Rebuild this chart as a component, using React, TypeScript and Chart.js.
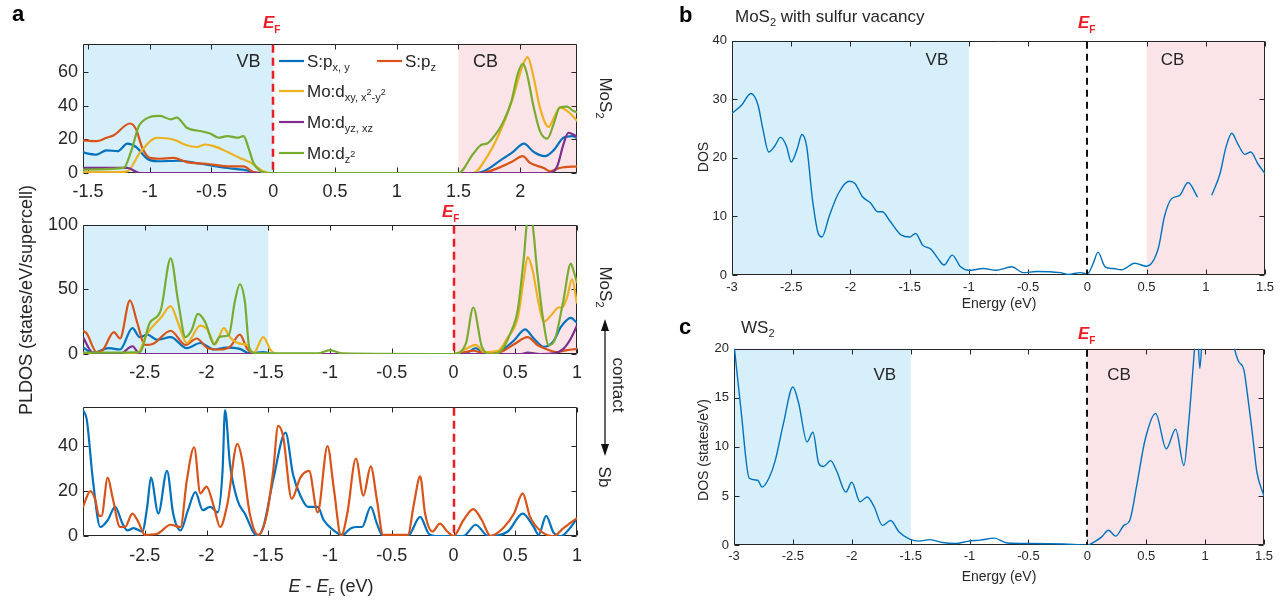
import React, { useEffect, useRef } from "react";
import { Chart, registerables } from "chart.js";

Chart.register(...registerables);

const FONT = '"Liberation Sans", Arial, Helvetica, sans-serif';
const INK = "#262626";
const C_SPXY = "#0072BD";
const C_SPZ = "#D95319";
const C_DXY = "#EDB120";
const C_DYZ = "#7E2F8E";
const C_DZ2 = "#77AC30";
const VB_FILL = "rgb(214,239,250)";
const CB_FILL = "rgb(251,228,232)";
const EF_RED = "#EC1C24";

// ---------- Panel a (top): MoS2 monolayer PLDOS ----------
const A1_E_SPXY = [-1.56, -1.43, -1.35, -1.26, -1.18, -1.11, -1.02, -0.94, -0.76, -0.59, -0.37, -0.21, -0.13, -0.05, 1.5, 1.64, 1.73, 1.84, 1.94, 2.03, 2.11, 2.2, 2.27, 2.35, 2.42, 2.47];
const A1_SPXY = [12.5, 11, 13.5, 13, 17.5, 15.5, 8.5, 7, 7.3, 5.5, 3, 1.5, 0, 0, 0, 0, 2, 7.5, 12.5, 17.5, 12.5, 10, 13.5, 21, 22, 20.5];
const A1_E_SPZ = [-1.56, -1.43, -1.35, -1.29, -1.16, -1.11, -1.06, -1.0, -0.92, -0.81, -0.7, -0.54, -0.37, -0.24, -0.16, -0.08, 1.5, 1.68, 1.84, 1.94, 2.02, 2.08, 2.19, 2.24, 2.32, 2.47];
const A1_SPZ = [19.5, 19, 21, 22.5, 29.5, 26, 15, 9, 8.5, 9, 6.5, 5.5, 4, 4, 0.5, 0, 0, 0, 3.5, 7, 10, 6, 3, 1, 3, 4];
const A1_E_DXY = [-1.56, -1.25, -1.18, -1.08, -0.94, -0.81, -0.7, -0.62, -0.55, -0.48, -0.37, -0.27, -0.19, -0.13, -0.08, -0.02, 1.5, 1.62, 1.73, 1.84, 1.94, 2.02, 2.06, 2.11, 2.16, 2.23, 2.28, 2.32, 2.38, 2.47];
const A1_DXY = [0.5, 0.5, 1, 12, 21, 20, 16.5, 15.5, 17, 16, 12.5, 9, 6.5, 3.5, 1, 0, 0, 0, 9.5, 25, 44.5, 64, 69, 56.5, 39, 27.5, 34, 39, 37, 30.5];
const A1_E_DYZ = [-1.56, -1.18, -1.08, 2.24, 2.3, 2.35, 2.39, 2.43, 2.47];
const A1_DYZ = [3, 3, 0, 0, 4, 17, 24, 23, 21];
const A1_E_DZ2 = [-1.56, -1.21, -1.15, -1.08, -0.915, -0.83, -0.78, -0.7, -0.59, -0.51, -0.44, -0.37, -0.29, -0.24, -0.2, -0.16, -0.1, -0.04, 1.5, 1.62, 1.69, 1.73, 1.78, 1.86, 1.93, 1.98, 2.02, 2.05, 2.11, 2.16, 2.22, 2.27, 2.32, 2.38, 2.43, 2.47];
const A1_DZ2 = [2, 3, 13, 29, 34, 32, 33, 27, 25, 23.5, 21, 22, 21, 22, 15, 6, 1, 0, 0, 11.5, 17, 17.5, 21, 30, 43, 59, 65, 60.5, 39, 25, 20.5, 29, 39, 39.5, 37, 36];

// ---------- Panel a (middle): MoS2 in contact ----------
const A2_E_SPXY = [-3.0, -2.92, -2.79, -2.7, -2.6, -2.54, -2.48, -2.4, -2.29, -2.16, -2.05, -1.94, -1.84, -1.73, -1.65, -1.54, -1.46, -1.0, 0.0, 0.11, 0.18, 0.25, 0.38, 0.49, 0.58, 0.65, 0.73, 0.81, 0.87, 0.95, 1.0];
const A2_SPXY = [5, 1, 4.5, 3.5, 20, 13, 15, 11, 13, 4.5, 8.5, 3.5, 5, 4, 0.5, 1.5, 0, 0, 0, 1, 4.5, 0.5, 2.5, 10.5, 19, 12, 5.5, 10, 21, 28, 24];
const A2_E_SPZ = [-3.0, -2.97, -2.89, -2.84, -2.75, -2.7, -2.62, -2.56, -2.5, -2.43, -2.29, -2.17, -2.08, -1.99, -1.89, -1.81, -1.73, -1.67, -1.62, -1.5, 0, 0.16, 0.25, 0.38, 0.49, 0.6, 0.68, 0.76, 0.84, 0.92, 1.0];
const A2_SPZ = [18, 16, 1.5, 3, 17, 12, 41.5, 24, 7, 8, 18, 7, 12, 4.5, 3.5, 5.5, 15, 4, 0.5, 0, 0, 2.5, 0.5, 1.5, 7.5, 13, 7, 3.5, 1.5, 3, 4];
const A2_E_DXY = [-3.0, -2.56, -2.48, -2.37, -2.29, -2.23, -2.16, -2.05, -1.99, -1.93, -1.86, -1.81, -1.73, -1.67, -1.62, -1.54, -1.48, -1.43, 0, 0.11, 0.18, 0.25, 0.36, 0.44, 0.52, 0.57, 0.6, 0.64, 0.69, 0.73, 0.8, 0.85, 0.88, 0.92, 0.96, 1.0];
const A2_DXY = [0, 0.5, 16, 28, 37, 24, 8.5, 22, 18.5, 7.5, 20, 13, 8, 7, 0.5, 13, 3, 0, 0, 4.5, 7, 1.5, 2.5, 13, 28, 59, 75, 65, 39, 25, 31, 36, 36, 44, 58, 39];
const A2_E_DYZ = [-3.0, -2.92, -2.7, -2.6, -2.54, 0.55, 0.6, 0.7, 0.81, 0.89, 0.95, 1.0];
const A2_DYZ = [13, 1, 0, 6, 0, 0, 1, 0, 0.5, 4, 12, 22];
const A2_E_DZ2 = [-3.0, -2.54, -2.46, -2.37, -2.29, -2.23, -2.17, -2.12, -2.07, -2.01, -1.94, -1.89, -1.82, -1.77, -1.73, -1.69, -1.65, -1.59, -1.1, -1.0, -0.9, 0, 0.1, 0.16, 0.23, 0.3, 0.38, 0.46, 0.52, 0.57, 0.6, 0.63, 0.68, 0.73, 0.77, 0.82, 0.89, 0.95, 0.97, 1.0];
const A2_DZ2 = [1, 1.5, 24, 34, 74, 41, 13, 18.5, 31, 24.5, 7.5, 13.5, 14.5, 41, 54, 41, 3, 0.5, 0.5, 3, 0.5, 0, 8, 36, 5.5, 0, 2, 16, 34, 75, 103, 103, 62, 24, 7, 11, 41.5, 70, 65, 55];

// ---------- Panel a (bottom): Sb side of the contact ----------
const A3_E_SPXY = [-3.0, -2.97, -2.92, -2.86, -2.8, -2.74, -2.68, -2.64, -2.59, -2.52, -2.48, -2.45, -2.39, -2.32, -2.27, -2.21, -2.15, -2.09, -2.03, -1.97, -1.91, -1.87, -1.85, -1.81, -1.75, -1.69, -1.59, -1.54, -1.46, -1.36, -1.3, -1.24, -1.18, -1.1, -1.05, -0.97, -0.9, -0.83, -0.78, -0.74, -0.67, -0.62, -0.57, -0.37, -0.27, -0.2, -0.13, 0.08, 0.18, 0.28, 0.44, 0.56, 0.65, 0.69, 0.75, 0.81, 0.87, 0.95, 1.0];
const A3_SPXY = [56, 52, 25, 4, 7, 13, 5.5, 2.5, 3.5, 2, 13, 26, 10, 29, 10, 2.5, 11.5, 19.5, 11.5, 13, 10.5, 29, 56, 32, 16, 10, 0, 4, 25, 46, 27.5, 18, 13, 13, 7, 2.5, 0.5, 3.5, 4, 4, 13, 5.5, 0, 0, 8.5, 1, 0, 0, 5, 0, 2, 10, 4, 0.5, 9, 1.5, 0, 4, 8];
const A3_E_SPZ = [-3.0, -2.94, -2.9, -2.87, -2.85, -2.8, -2.76, -2.7, -2.66, -2.6, -2.55, -2.5, -2.4, -2.29, -2.21, -2.16, -2.1, -2.05, -2.0, -1.94, -1.89, -1.83, -1.75, -1.71, -1.65, -1.58, -1.51, -1.46, -1.42, -1.38, -1.31, -1.24, -1.17, -1.1, -1.02, -0.97, -0.91, -0.86, -0.79, -0.73, -0.67, -0.62, -0.57, -0.37, -0.32, -0.27, -0.23, -0.17, -0.11, -0.05, 0, 0.08, 0.16, 0.23, 0.3, 0.41, 0.49, 0.56, 0.62, 0.71, 0.81, 0.89, 1.0];
const A3_SPZ = [13, 20, 16, 9, 9, 26, 17, 4, 4, 10, 6, 0.5, 1, 5, 4, 24.5, 39.5, 19, 22, 13, 4, 14.5, 41, 33.5, 10, 0.5, 10, 29, 49, 44.5, 16.5, 26, 29, 10.5, 40, 21.5, 0, 10, 34.5, 18, 31, 16, 0.5, 0.5, 14.5, 26.5, 10, 2, 5.5, 2, 0, 7, 12, 7, 0, 4, 10, 19, 8.5, 2, 0, 3.5, 8];

// ---------- Panel b: MoS2 with sulfur vacancy ----------
const B_E = [-3.0, -2.92, -2.84, -2.78, -2.74, -2.69, -2.64, -2.59, -2.54, -2.5, -2.45, -2.41, -2.37, -2.32, -2.27, -2.24, -2.18, -2.1, -2.01, -1.96, -1.9, -1.83, -1.77, -1.73, -1.67, -1.57, -1.5, -1.45, -1.39, -1.32, -1.26, -1.21, -1.14, -1.07, -1.0, -0.88, -0.77, -0.64, -0.54, -0.43, -0.23, -0.16, -0.06, 0, 0.05, 0.09, 0.15, 0.22, 0.29, 0.4, 0.5, 0.6, 0.65, 0.71, 0.78, 0.85, 0.93, 0.99, 1.05, 1.12, 1.17, 1.22, 1.27, 1.33, 1.38, 1.44, 1.5];
const B_DOS = [27.6, 29, 31, 29, 25, 21, 22, 23.5, 22, 19.3, 21.5, 24, 22, 12.8, 7, 6.5, 10, 14, 16, 15.6, 13.4, 12.3, 10.8, 10.8, 9.3, 6.8, 6.5, 7.1, 5.1, 4.4, 2.8, 1.7, 3.4, 1.4, 0.8, 1.1, 0.8, 1.4, 0.4, 0.6, 0.4, 0.1, 0.4, 0.2, 2, 3.9, 1.4, 1.1, 0.9, 2, 1.5, 4.6, 9.9, 13, 13.6, 15.8, 13.3, null, 13.6, 17.3, 21.8, 24.2, 22.4, 20.6, 21, 19, 17.3];

// ---------- Panel c: WS2 ----------
const C_E = [-3.0, -2.94, -2.87, -2.8, -2.76, -2.7, -2.65, -2.58, -2.5, -2.45, -2.38, -2.33, -2.28, -2.24, -2.18, -2.13, -2.05, -2.0, -1.93, -1.87, -1.81, -1.74, -1.67, -1.6, -1.51, -1.43, -1.34, -1.23, -1.12, -1.01, -0.91, -0.79, -0.68, -0.5, -0.2, 0.0, 0.07, 0.12, 0.18, 0.24, 0.31, 0.36, 0.42, 0.49, 0.58, 0.67, 0.75, 0.82, 0.86, 0.91, 0.93, 0.955, 0.98, 1.05, 1.15, 1.22, 1.25, 1.28, 1.33, 1.36, 1.4, 1.44, 1.5];
const C_DOS = [20.5, 13.7, 6.8, 6.6, 5.9, 6.9, 8.6, 12.4, 16.1, 14.4, 10.5, 11.5, 8.3, 8, 8.6, 7.6, 5.4, 6.4, 4.4, 4.9, 3.9, 2, 2.5, 1.35, 0.6, 0.4, 0.55, 0.25, 0.15, 0.4, 0.5, 0.7, 0.2, 0.15, 0.1, 0, 0.4, 0.8, 1.5, 0.9, 2, 2.5, 6.1, 10.7, 13.4, 9.8, 11.8, 8.1, 12.4, 20, 23, 18, 22, 27, 26, 22, 20, 18.8, 17.8, 15.3, 11.5, 7.4, 5];

// ---------- Axis ticks ----------
const A1_XTICKS = [-1.5, -1, -0.5, 0, 0.5, 1, 1.5, 2];
const A1_YTICKS = [0, 20, 40, 60];
const A23_XTICKS = [-2.5, -2, -1.5, -1, -0.5, 0, 0.5, 1];
const A2_YTICKS = [0, 50, 100];
const A3_YTICKS = [0, 20, 40];
const BC_XTICKS = [-3, -2.5, -2, -1.5, -1, -0.5, 0, 0.5, 1, 1.5];
const B_YTICKS = [0, 10, 20, 30, 40];
const C_YTICKS = [0, 5, 10, 15, 20];

type Series = { e: number[]; v: (number | null)[]; color: string; order: number };
type Band = { from: number; to: number; color: string };
type Note = { text: string; x: number; y: number };
type PanelSpec = {
  area: [number, number, number, number];
  yAxisW: number;
  xAxisH: number;
  padTop: number;
  padRight: number;
  xRange: [number, number];
  yRange: [number, number];
  xTicks: number[];
  yTicks: number[];
  tickFont: number;
  xPad: number;
  yPad: number;
  lineWidth: number;
  series: Series[];
  bands: Band[];
  ef: { color: string; width: number; dash: number[] };
  notes: Note[];
  noteFont: number;
};

const pdosSeries = (
  spxy: [number[], number[]],
  spz: [number[], number[]],
  dxy?: [number[], number[]],
  dyz?: [number[], number[]],
  dz2?: [number[], number[]]
): Series[] => {
  const out: Series[] = [
    { e: spxy[0], v: spxy[1], color: C_SPXY, order: 4 },
    { e: spz[0], v: spz[1], color: C_SPZ, order: 3 },
  ];
  if (dxy) out.push({ e: dxy[0], v: dxy[1], color: C_DXY, order: 2 });
  if (dyz) out.push({ e: dyz[0], v: dyz[1], color: C_DYZ, order: 1 });
  if (dz2) out.push({ e: dz2[0], v: dz2[1], color: C_DZ2, order: 0 });
  return out;
};

const EF_A = { color: EF_RED, width: 2.5, dash: [8, 5] };
const EF_BC = { color: "#111111", width: 2, dash: [7, 5] };

const PANEL_A1: PanelSpec = {
  area: [83, 42, 577, 173], yAxisW: 60, xAxisH: 32, padTop: 14, padRight: 20,
  xRange: [-1.54, 2.46], yRange: [0, 77], xTicks: A1_XTICKS, yTicks: A1_YTICKS,
  tickFont: 18, xPad: 8, yPad: 5, lineWidth: 2.2,
  series: pdosSeries([A1_E_SPXY, A1_SPXY], [A1_E_SPZ, A1_SPZ], [A1_E_DXY, A1_DXY], [A1_E_DYZ, A1_DYZ], [A1_E_DZ2, A1_DZ2]),
  bands: [{ from: -1.54, to: 0, color: VB_FILL }, { from: 1.5, to: 2.46, color: CB_FILL }],
  ef: EF_A,
  notes: [{ text: "VB", x: -0.2, y: 66 }, { text: "CB", x: 1.72, y: 66 }],
  noteFont: 18,
};

const PANEL_A2: PanelSpec = {
  area: [83, 223, 577, 354], yAxisW: 60, xAxisH: 32, padTop: 14, padRight: 20,
  xRange: [-3, 1], yRange: [0, 100], xTicks: A23_XTICKS, yTicks: A2_YTICKS,
  tickFont: 18, xPad: 8, yPad: 5, lineWidth: 2.2,
  series: pdosSeries([A2_E_SPXY, A2_SPXY], [A2_E_SPZ, A2_SPZ], [A2_E_DXY, A2_DXY], [A2_E_DYZ, A2_DYZ], [A2_E_DZ2, A2_DZ2]),
  bands: [{ from: -3, to: -1.5, color: VB_FILL }, { from: 0, to: 1, color: CB_FILL }],
  ef: EF_A,
  notes: [],
  noteFont: 18,
};

const PANEL_A3: PanelSpec = {
  area: [83, 405, 577, 536], yAxisW: 60, xAxisH: 32, padTop: 14, padRight: 20,
  xRange: [-3, 1], yRange: [0, 57.5], xTicks: A23_XTICKS, yTicks: A3_YTICKS,
  tickFont: 18, xPad: 9, yPad: 5, lineWidth: 2.2,
  series: [
    { e: A3_E_SPXY, v: A3_SPXY, color: C_SPXY, order: 1 },
    { e: A3_E_SPZ, v: A3_SPZ, color: C_SPZ, order: 0 },
  ],
  bands: [],
  ef: EF_A,
  notes: [],
  noteFont: 18,
};

const PANEL_B: PanelSpec = {
  area: [732, 40, 1265, 275], yAxisW: 40, xAxisH: 26, padTop: 12, padRight: 16,
  xRange: [-3, 1.5], yRange: [0, 40], xTicks: BC_XTICKS, yTicks: B_YTICKS,
  tickFont: 13, xPad: 5, yPad: 5, lineWidth: 1.4,
  series: [{ e: B_E, v: B_DOS, color: C_SPXY, order: 0 }],
  bands: [{ from: -3, to: -1, color: VB_FILL }, { from: 0.5, to: 1.5, color: CB_FILL }],
  ef: EF_BC,
  notes: [{ text: "VB", x: -1.27, y: 36.6 }, { text: "CB", x: 0.72, y: 36.6 }],
  noteFont: 17,
};

const PANEL_C: PanelSpec = {
  area: [734, 348, 1264, 545], yAxisW: 40, xAxisH: 26, padTop: 12, padRight: 16,
  xRange: [-3, 1.5], yRange: [0, 20], xTicks: BC_XTICKS, yTicks: C_YTICKS,
  tickFont: 13, xPad: 4, yPad: 5, lineWidth: 1.4,
  series: [{ e: C_E, v: C_DOS, color: C_SPXY, order: 0 }],
  bands: [{ from: -3, to: -1.5, color: VB_FILL }, { from: 0, to: 1.5, color: CB_FILL }],
  ef: EF_BC,
  notes: [{ text: "VB", x: -1.72, y: 17.3 }, { text: "CB", x: 0.27, y: 17.3 }],
  noteFont: 17,
};

const PANELS = [PANEL_A1, PANEL_A2, PANEL_A3, PANEL_B, PANEL_C];

const TICK_LEN = 5;

// Shading bands, boxed axes with inward ticks, Fermi-level line and band labels.
function makeDeco(p: PanelSpec) {
  return {
    id: "panelDeco",
    beforeDatasetsDraw(chart: any) {
      const { ctx, chartArea: a } = chart;
      const xs = chart.scales.x;
      const ys = chart.scales.y;
      ctx.save();
      for (const b of p.bands) {
        const x0 = Math.max(xs.getPixelForValue(b.from), a.left);
        const x1 = Math.min(xs.getPixelForValue(b.to), a.right);
        ctx.fillStyle = b.color;
        ctx.fillRect(x0, a.top, x1 - x0, a.bottom - a.top);
      }
      const L = Math.round(a.left) + 0.5;
      const R = Math.round(a.right) - 0.5;
      const T = Math.round(a.top) + 0.5;
      const B = Math.round(a.bottom) - 0.5;
      ctx.strokeStyle = INK;
      ctx.lineWidth = 1;
      ctx.beginPath();
      ctx.rect(L, T, R - L, B - T);
      for (const t of p.xTicks) {
        const px = Math.round(xs.getPixelForValue(t)) + 0.5;
        ctx.moveTo(px, B);
        ctx.lineTo(px, B - TICK_LEN);
        ctx.moveTo(px, T);
        ctx.lineTo(px, T + TICK_LEN);
      }
      for (const t of p.yTicks) {
        const py = Math.round(ys.getPixelForValue(t)) + 0.5;
        ctx.moveTo(L, py);
        ctx.lineTo(L + TICK_LEN, py);
        ctx.moveTo(R, py);
        ctx.lineTo(R - TICK_LEN, py);
      }
      ctx.stroke();
      ctx.restore();
    },
    afterDatasetsDraw(chart: any) {
      const { ctx, chartArea: a } = chart;
      const xs = chart.scales.x;
      const ys = chart.scales.y;
      ctx.save();
      const px = Math.round(xs.getPixelForValue(0));
      ctx.strokeStyle = p.ef.color;
      ctx.lineWidth = p.ef.width;
      ctx.setLineDash(p.ef.dash);
      ctx.beginPath();
      ctx.moveTo(px, a.top + 1);
      ctx.lineTo(px, a.bottom);
      ctx.stroke();
      ctx.setLineDash([]);
      ctx.fillStyle = INK;
      ctx.font = `${p.noteFont}px ${FONT}`;
      ctx.textAlign = "center";
      ctx.textBaseline = "middle";
      for (const n of p.notes) {
        ctx.fillText(n.text, xs.getPixelForValue(n.x), ys.getPixelForValue(n.y));
      }
      ctx.restore();
    },
  };
}

function DosPanel({ spec }: { spec: PanelSpec }) {
  const ref = useRef<HTMLCanvasElement | null>(null);
  const [L, T, R, B] = spec.area;
  const left = L - spec.yAxisW;
  const top = T - spec.padTop;
  const width = R - L + spec.yAxisW + spec.padRight;
  const height = B - T + spec.xAxisH + spec.padTop;

  useEffect(() => {
    if (!ref.current) return;
    const tickFont = { family: FONT, size: spec.tickFont };
    const chart = new Chart(ref.current, {
      type: "line",
      data: {
        datasets: spec.series.map((s) => ({
          data: s.e.map((x, i) => ({ x, y: s.v[i] })),
          borderColor: s.color,
          borderWidth: spec.lineWidth,
          pointRadius: 0,
          fill: false,
          cubicInterpolationMode: "monotone",
          spanGaps: false,
          order: s.order,
        })),
      } as any,
      options: {
        responsive: false,
        animation: false,
        devicePixelRatio: 1,
        events: [],
        layout: { padding: { top: spec.padTop, right: spec.padRight, left: 0, bottom: 0 } },
        plugins: { legend: { display: false }, tooltip: { enabled: false }, title: { display: false } },
        scales: {
          x: {
            type: "linear",
            min: spec.xRange[0],
            max: spec.xRange[1],
            grid: { display: false, drawTicks: false },
            border: { display: false },
            ticks: {
              autoSkip: false,
              maxRotation: 0,
              minRotation: 0,
              padding: spec.xPad,
              color: INK,
              font: tickFont,
              callback: (v: any) => String(v),
            },
            afterBuildTicks: (s: any) => {
              s.ticks = spec.xTicks.map((value) => ({ value }));
            },
            afterFit: (s: any) => {
              s.height = spec.xAxisH;
            },
          },
          y: {
            type: "linear",
            min: spec.yRange[0],
            max: spec.yRange[1],
            grid: { display: false, drawTicks: false },
            border: { display: false },
            ticks: {
              autoSkip: false,
              padding: spec.yPad,
              color: INK,
              font: tickFont,
              callback: (v: any) => String(v),
            },
            afterBuildTicks: (s: any) => {
              s.ticks = spec.yTicks.map((value) => ({ value }));
            },
            afterFit: (s: any) => {
              s.width = spec.yAxisW;
            },
          },
        },
      } as any,
      plugins: [makeDeco(spec)],
    });
    return () => chart.destroy();
  }, [spec]);

  return (
    <canvas
      ref={ref}
      width={width}
      height={height}
      style={{ position: "absolute", left, top, width, height }}
    />
  );
}

function FermiLabel({ x, y }: { x: number; y: number }) {
  return (
    <text x={x} y={y} fill={EF_RED} fontWeight="bold" fontSize={17} fontFamily={FONT}>
      <tspan fontStyle="italic">E</tspan>
      <tspan fontSize={10} dy={5}>F</tspan>
    </text>
  );
}

function LegendRow({ x, y, color, children }: { x: number; y: number; color: string; children: React.ReactNode }) {
  return (
    <g>
      <line x1={x} x2={x + 25} y1={y} y2={y} stroke={color} strokeWidth={2.2} />
      <text x={x + 28} y={y + 6} fontSize={17} fontFamily={FONT} fill={INK}>
        {children}
      </text>
    </g>
  );
}

export default function App() {
  return (
    <div
      style={{
        position: "fixed",
        left: 0,
        top: 0,
        width: 1285,
        height: 603,
        background: "#ffffff",
        overflow: "hidden",
      }}
    >
      {PANELS.map((p, i) => (
        <DosPanel key={i} spec={p} />
      ))}
      <svg
        width={1285}
        height={603}
        style={{ position: "absolute", left: 0, top: 0, pointerEvents: "none" }}
        fontFamily={FONT}
      >
        {/* panel letters */}
        <text x={12} y={21} fontSize={22} fontWeight="bold" fill="#000">a</text>
        <text x={679} y={22} fontSize={22} fontWeight="bold" fill="#000">b</text>
        <text x={679} y={334} fontSize={22} fontWeight="bold" fill="#000">c</text>

        {/* Fermi level markers */}
        <FermiLabel x={263} y={28} />
        <FermiLabel x={442} y={217} />
        <FermiLabel x={1078} y={28} />
        <FermiLabel x={1078} y={339} />

        {/* legend of panel a */}
        <LegendRow x={279} y={61} color={C_SPXY}>
          S:p<tspan fontSize={11} dy={4}>x, y</tspan>
        </LegendRow>
        <LegendRow x={377} y={61} color={C_SPZ}>
          S:p<tspan fontSize={11} dy={4}>z</tspan>
        </LegendRow>
        <LegendRow x={279} y={91} color={C_DXY}>
          Mo:d<tspan fontSize={11} dy={4}>xy, x</tspan>
          <tspan fontSize={9} dy={-6}>2</tspan>
          <tspan fontSize={11} dy={6}>-y</tspan>
          <tspan fontSize={9} dy={-6}>2</tspan>
        </LegendRow>
        <LegendRow x={279} y={122} color={C_DYZ}>
          Mo:d<tspan fontSize={11} dy={4}>yz, xz</tspan>
        </LegendRow>
        <LegendRow x={279} y={153} color={C_DZ2}>
          Mo:d<tspan fontSize={11} dy={4}>z</tspan>
          <tspan fontSize={9} dy={-6}>2</tspan>
        </LegendRow>

        {/* axis titles of panel a */}
        <g transform="translate(26,300) rotate(-90)">
          <text x={0} y={6} textAnchor="middle" fontSize={18} fill={INK}>
            PLDOS (states/eV/supercell)
          </text>
        </g>
        <text x={331} y={592} textAnchor="middle" fontSize={18} fill={INK}>
          <tspan fontStyle="italic">E</tspan>
          <tspan>{" - "}</tspan>
          <tspan fontStyle="italic">E</tspan>
          <tspan fontSize={10} dy={4}>F</tspan>
          <tspan dy={-4}>{" (eV)"}</tspan>
        </text>

        {/* side labels of panel a */}
        <g transform="translate(606,98) rotate(90)">
          <text x={0} y={6} textAnchor="middle" fontSize={17} fill={INK}>
            MoS<tspan fontSize={11} dy={4}>2</tspan>
          </text>
        </g>
        <g transform="translate(606,287) rotate(90)">
          <text x={0} y={6} textAnchor="middle" fontSize={17} fill={INK}>
            MoS<tspan fontSize={11} dy={4}>2</tspan>
          </text>
        </g>
        <line x1={605} y1={328} x2={605} y2={447} stroke="#111" strokeWidth={1.3} />
        <polygon points="605,319 601,331 609,331" fill="#111" />
        <polygon points="605,456 601,444 609,444" fill="#111" />
        <g transform="translate(617,385) rotate(90)">
          <text x={0} y={4} textAnchor="middle" fontSize={17} fill={INK}>contact</text>
        </g>
        <g transform="translate(605,477) rotate(90)">
          <text x={0} y={6} textAnchor="middle" fontSize={17} fill={INK}>Sb</text>
        </g>

        {/* titles and axis labels of panels b and c */}
        <text x={735} y={22} fontSize={17} fill={INK}>
          MoS<tspan fontSize={11} dy={4}>2</tspan>
          <tspan dy={-4}>{" with sulfur vacancy"}</tspan>
        </text>
        <text x={741} y={333} fontSize={17} fill={INK}>
          WS<tspan fontSize={11} dy={4}>2</tspan>
        </text>
        <g transform="translate(703,157) rotate(-90)">
          <text x={0} y={5} textAnchor="middle" fontSize={14} fill={INK}>DOS</text>
        </g>
        <g transform="translate(703,450) rotate(-90)">
          <text x={0} y={5} textAnchor="middle" fontSize={14} fill={INK}>DOS (states/eV)</text>
        </g>
        <text x={999} y={308} textAnchor="middle" fontSize={14} fill={INK}>Energy (eV)</text>
        <text x={999} y={581} textAnchor="middle" fontSize={14} fill={INK}>Energy (eV)</text>
      </svg>
    </div>
  );
}
